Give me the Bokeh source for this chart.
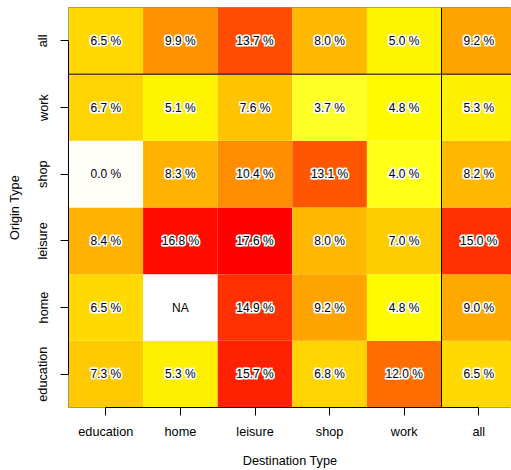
import colorsys
import math

from bokeh.core.properties import value
from bokeh.embed import file_html
from bokeh.models import ColumnDataSource, FixedTicker, LinearColorMapper, Range1d, Span
from bokeh.plotting import figure
from bokeh.resources import INLINE

# Destination (columns, left to right) and origin (rows, bottom to top)
destinations = ["education", "home", "leisure", "shop", "work", "all"]
origins = ["education", "home", "leisure", "shop", "work", "all"]

# Share (%) for each origin row, one value per destination column
share_education = [7.3, 5.3, 15.7, 6.8, 12.0, 6.5]
share_home = [6.5, float("nan"), 14.9, 9.2, 4.8, 9.0]
share_leisure = [8.4, 16.8, 17.6, 8.0, 7.0, 15.0]
share_shop = [0.0, 8.3, 10.4, 13.1, 4.0, 8.2]
share_work = [6.7, 5.1, 7.6, 3.7, 4.8, 5.3]
share_all = [6.5, 9.9, 13.7, 8.0, 5.0, 9.2]

rows = [share_education, share_home, share_leisure, share_shop, share_work, share_all]


def heat_colors(n):
    """R-style heat palette: red -> yellow, then yellow fading toward white."""
    j = n // 4
    i = n - j
    cols = []
    for k in range(i):
        h = (k / (i - 1)) * (1 / 6)
        cols.append(colorsys.hsv_to_rgb(h, 1, 1))
    for k in range(j):
        s_hi, s_lo = 1 - 1 / (2 * j), 1 / (2 * j)
        s = s_hi + (s_lo - s_hi) * k / (j - 1)
        cols.append(colorsys.hsv_to_rgb(1 / 6, s, 1))
    return ["#%02x%02x%02x" % tuple(round(c * 255) for c in rgb) for rgb in cols]


palette = list(reversed(heat_colors(64)))

xs, ys, vals, labels = [], [], [], []
for r, row in enumerate(rows):
    for c, v in enumerate(row):
        xs.append(c + 0.5)
        ys.append(r + 0.5)
        vals.append(v)
        labels.append("NA" if math.isnan(v) else f"{v:.1f} %")

finite = [v for v in vals if not math.isnan(v)]
mapper = LinearColorMapper(palette=palette, low=min(finite), high=max(finite), nan_color="white")
src = ColumnDataSource(dict(x=xs, y=ys, v=vals, label=labels))

FONT = "Liberation Sans"

p = figure(
    width=511, height=470,
    x_range=Range1d(0, 443 / 74.6), y_range=Range1d(0, 6),
    output_backend="svg", toolbar_location=None,
    min_border_left=68, min_border_right=0, min_border_top=7, min_border_bottom=62,
)
p.grid.visible = False
p.outline_line_color = "#8a8a8a"
p.outline_line_width = 1
p.background_fill_color = "white"

p.rect(x="x", y="y", width=1, height=1, source=src,
       fill_color={"field": "v", "transform": mapper}, line_color=None)

# White halo under the cell labels (a few shifted copies), black labels on top
text_style = dict(text_align="center", text_baseline="middle",
                  text_font=value(FONT), text_font_size="12px")
for dx, dy in ((-1, -1), (1, -1), (-1, 1), (1, 1)):
    p.text(x="x", y="y", text="label", source=src, x_offset=dx, y_offset=dy,
           text_color="white", text_outline_color="white", **text_style)
p.text(x="x", y="y", text="label", source=src, text_color="black", **text_style)

# Separators for the "all" row and column
p.add_layout(Span(location=5, dimension="height", line_color="black", line_width=1))
p.add_layout(Span(location=5, dimension="width", line_color="black", line_width=1))

ticks = [k + 0.5 for k in range(6)]
for ax, names, title in ((p.xaxis[0], destinations, "Destination Type"),
                         (p.yaxis[0], origins, "Origin Type")):
    ax.ticker = FixedTicker(ticks=ticks)
    ax.major_label_overrides = {t: n for t, n in zip(ticks, names)}
    ax.bounds = (0.5, 5.5)
    ax.minor_tick_line_color = None
    ax.major_tick_in = 0
    ax.major_tick_out = 8
    ax.axis_line_color = "black"
    ax.major_tick_line_color = "black"
    ax.major_label_text_font = FONT
    ax.major_label_text_font_size = "12.7px"
    ax.major_label_text_color = "black"
    ax.axis_label = title
    ax.axis_label_text_font = FONT
    ax.axis_label_text_font_style = "normal"
    ax.axis_label_text_font_size = "12.7px"
    ax.axis_label_text_color = "black"

p.xaxis[0].major_label_standoff = 9
p.xaxis[0].axis_label_standoff = 12
p.yaxis[0].major_label_orientation = "vertical"
p.yaxis[0].major_label_standoff = 10
p.yaxis[0].axis_label_standoff = 12

open("out.html", "w").write(file_html(p, INLINE))
